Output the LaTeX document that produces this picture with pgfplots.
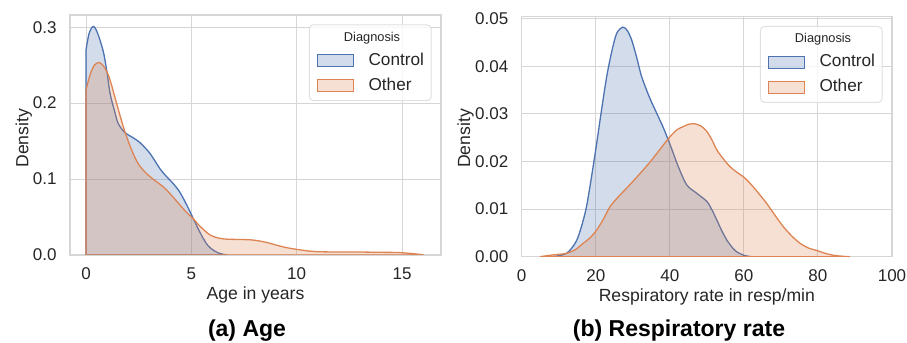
\documentclass[border=0pt]{standalone}
\usepackage{pgfplots}
\pgfplotsset{compat=1.18}
\usepackage{fontspec}
\setmainfont{Liberation Sans}
\definecolor{sbblue}{HTML}{4C72B0}
\definecolor{sborange}{HTML}{DD8452}
\definecolor{gridc}{HTML}{D6D6D6}
\definecolor{txt}{HTML}{262626}
\newcommand\labfont{\fontsize{8.8}{10}\selectfont}
\pgfplotsset{
  kde/.style={
    scale only axis,
    axis line style={gridc, line width=0.6pt},
    grid=major,
    major grid style={gridc, line width=0.5pt},
    major tick length=0pt,
    tick style={draw=none},
    ticklabel style={font=\fontsize{8.5}{10}\selectfont, text=txt},
    yticklabel style={xshift=-3.2pt},
    xticklabel style={yshift=-3pt},
    scaled ticks=false,
    /pgf/number format/assume math mode=true,
    every axis x label/.style={at={(axis description cs:0.5,0)}, anchor=base, yshift=-22.2pt, font=\labfont, text=txt},
    legend cell align=left,
    legend style={at={(1,1)}, anchor=north east, xshift=-4.65pt, yshift=-4.65pt,
      draw=black!12, line width=0.5pt, rounded corners=2pt, fill=white,
      fill opacity=0.8, text opacity=1, inner xsep=3.6pt, inner ysep=3.25pt,
      row sep=4pt, font=\fontsize{8.6}{10}\selectfont, text=txt,
      nodes={inner sep=0pt, text height=6.5pt, text depth=2pt}},
  },
  kdeblue/.style={draw=sbblue, line width=0.65pt, fill=sbblue, fill opacity=0.25,
    legend image code/.code={\draw[##1, sharp corners] (0pt,-3pt) rectangle (18pt,3pt); \path (25.3pt,0pt);}},
  kdeorange/.style={draw=sborange, line width=0.65pt, fill=sborange, fill opacity=0.25,
    legend image code/.code={\draw[##1, sharp corners] (0pt,-3pt) rectangle (18pt,3pt); \path (25.3pt,0pt);}},
}
\begin{document}
\begin{tikzpicture}
\useasboundingbox (0,0) rectangle (453.5pt,171.5pt);
% ---------------- (a) Age ----------------
\begin{axis}[kde, at={(35pt,44pt)}, anchor=south west,
  width=185.5pt, height=120pt,
  xmin=-0.76, xmax=16.85, ymin=0, ymax=0.316,
  xtick={0,5,10,15}, ytick={0,0.1,0.2,0.3},
  yticklabel style={/pgf/number format/fixed, /pgf/number format/fixed zerofill, /pgf/number format/precision=1},
  xlabel={Age in years}, ylabel={Density},
  every axis y label/.style={at={(axis description cs:-0.112,0.486)}, rotate=90, anchor=base, font=\labfont, text=txt},
]
\addlegendimage{empty legend}
\addlegendentry[font=\fontsize{6.4}{7}\selectfont, text height=4.9pt, text depth=1.5pt]{\hspace*{-12.3pt}Diagnosis}
\addplot[kdeblue, smooth] coordinates {
(0,0.27) (0.15,0.292) (0.35,0.301) (0.55,0.292) (0.82,0.268) (1.0,0.24) (1.14,0.213)
(1.35,0.19) (1.53,0.173) (1.85,0.161) (2.2,0.155) (2.56,0.148) (3.03,0.134) (3.5,0.114)
(3.8,0.104) (4.14,0.094) (4.4,0.085) (4.61,0.075) (4.85,0.062) (5.09,0.048) (5.3,0.036)
(5.56,0.022) (5.8,0.012) (6.03,0.0066) (6.3,0.0025) (6.5,0.001) (6.7,0)
} \closedcycle;
\addlegendentry{Control}
\addplot[kdeorange, smooth] coordinates {
(0,0.217) (0.2,0.238) (0.4,0.25) (0.63,0.2535) (0.85,0.248) (1.06,0.237) (1.2,0.225)
(1.37,0.208) (1.57,0.188) (1.77,0.169) (2.0,0.15) (2.17,0.138) (2.4,0.124) (2.64,0.114)
(3.0,0.104) (3.35,0.0965) (3.7,0.089) (3.98,0.081) (4.3,0.071) (4.61,0.061) (4.85,0.054)
(5.09,0.048) (5.3,0.041) (5.56,0.034) (5.85,0.027) (6.19,0.023) (6.6,0.021) (6.98,0.0206)
(7.5,0.0203) (7.93,0.0197) (8.5,0.017) (9.04,0.013) (9.5,0.0098) (9.98,0.0075) (10.5,0.0055)
(10.93,0.0044) (11.7,0.004) (12.5,0.004) (13.3,0.0038) (14.1,0.0035) (14.6,0.0034)
(15.0,0.003) (15.5,0.0018) (16.0,0.0004)
} \closedcycle;
\addlegendentry{Other}
\end{axis}
% ---------------- (b) Respiratory rate ----------------
\begin{axis}[kde, at={(260.85pt,43.15pt)}, anchor=south west,
  width=185.15pt, height=120pt,
  xmin=0, xmax=100, ymin=0, ymax=0.0504,
  xtick={0,20,40,60,80,100}, ytick={0,0.01,0.02,0.03,0.04,0.05},
  yticklabel style={/pgf/number format/fixed, /pgf/number format/fixed zerofill, /pgf/number format/precision=2},
  xlabel={Respiratory rate in resp/min}, ylabel={Density},
  every axis y label/.style={at={(axis description cs:-0.1396,0.493)}, rotate=90, anchor=base, font=\labfont, text=txt},
]
\addlegendimage{empty legend}
\addlegendentry[font=\fontsize{6.4}{7}\selectfont, text height=4.9pt, text depth=1.5pt]{\hspace*{-12.3pt}Diagnosis}
\addplot[kdeblue, smooth] coordinates {
(7.6,0) (10,0.0002) (12.1,0.0007) (13.5,0.0018) (14.9,0.0035) (16.2,0.0065) (17.5,0.0105)
(18.9,0.017) (20.25,0.0238) (21.6,0.031) (22.95,0.0378) (24.3,0.043) (25.65,0.0469)
(27.3,0.0482) (28.5,0.0475) (29.7,0.0455) (31,0.042) (32.4,0.0378) (34.6,0.0333)
(36.9,0.0294) (38.3,0.027) (39.6,0.0245) (41,0.0216) (42.3,0.0189) (44.55,0.0151)
(47.3,0.0133) (50,0.0116) (51.4,0.0098) (52.7,0.0077) (54,0.0055) (55.4,0.0035)
(56.8,0.002) (58.1,0.001) (60,0.0003) (62,0)
} \closedcycle;
\addlegendentry{Control}
\addplot[kdeorange, smooth] coordinates {
(5,0) (7.6,0.0003) (10,0.0005) (12.1,0.0007) (14.5,0.0015) (16.6,0.0028) (18.5,0.004)
(20.25,0.0056) (22,0.0078) (23.85,0.0105) (26,0.0125) (28.35,0.0144) (30.5,0.0162)
(32.8,0.0182) (35,0.0202) (36.9,0.0221) (38.5,0.0237) (40.05,0.0252) (42,0.0267)
(43.6,0.0273) (45,0.0278) (46.8,0.0279) (48.5,0.0274) (50,0.0263) (51.4,0.0245)
(52.7,0.0224) (54.5,0.0205) (56.25,0.0189) (58,0.0178) (59.85,0.0168) (61.2,0.0158)
(62.5,0.0147) (64.3,0.013) (66.15,0.0112) (68.4,0.0087) (70.65,0.0063) (73,0.0043)
(75.2,0.0028) (77.5,0.0018) (79.7,0.0013) (82,0.0007) (84.2,0.0003) (86.5,0.0001) (88.7,0)
} \closedcycle;
\addlegendentry{Other}
\end{axis}
% ---------------- sub-captions ----------------
\node[anchor=base, font=\fontsize{11.5}{13}\selectfont\bfseries, text=black] at (123.5pt,3.15pt) {(a) Age};
\node[anchor=base, font=\fontsize{11.5}{13}\selectfont\bfseries, text=black] at (339.5pt,3.15pt) {(b) Respiratory rate};
\end{tikzpicture}
\end{document}
